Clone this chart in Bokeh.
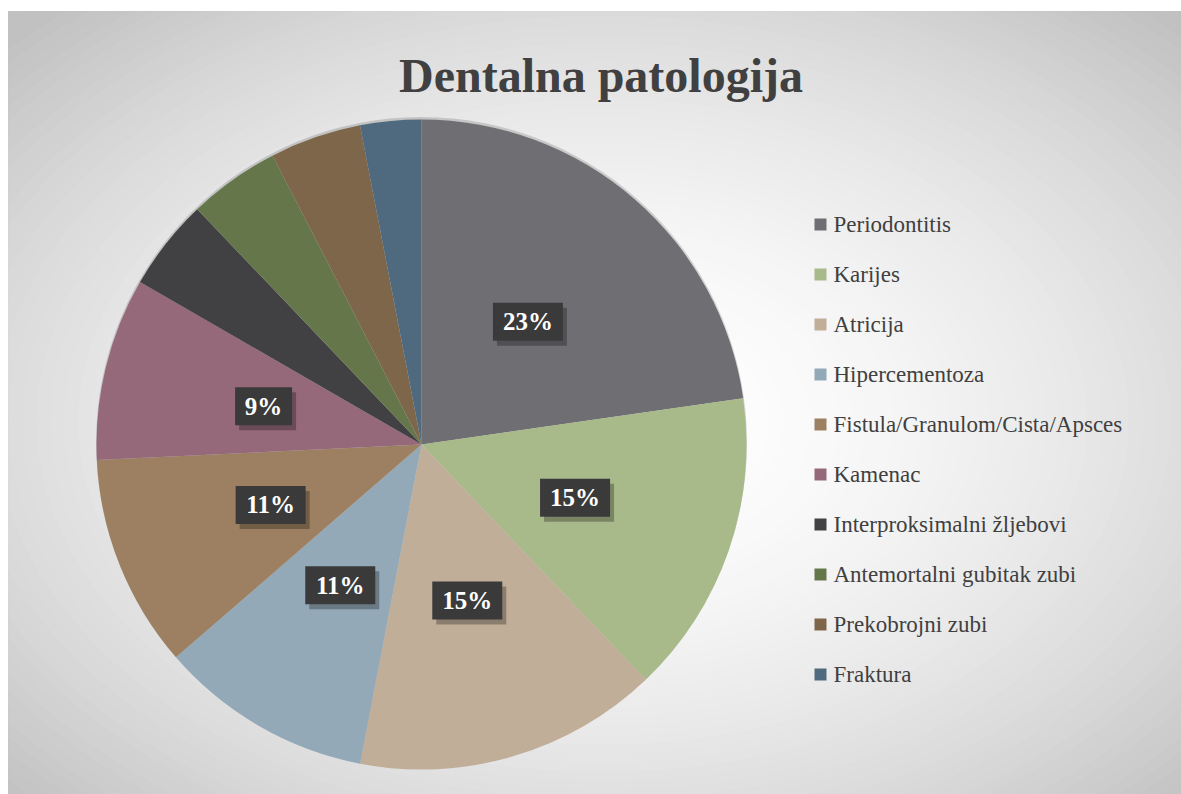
import numpy as np
from bokeh.plotting import figure
from bokeh.models import (Range1d, ColumnDataSource, BoxAnnotation, Label)
from bokeh.embed import file_html
from bokeh.resources import INLINE

# ---- data ----
categories = ["Periodontitis", "Karijes", "Atricija", "Hipercementoza",
              "Fistula/Granulom/Cista/Apsces", "Kamenac",
              "Interproksimalni žljebovi", "Antemortalni gubitak zubi",
              "Prekobrojni zubi", "Fraktura"]
counts = [15, 10, 10, 7, 7, 6, 3, 3, 3, 2]
colors = ["#6f6e73", "#a8b98a", "#c1ae98", "#93a9b8", "#9d8062",
          "#95697a", "#414144", "#65774a", "#7d6649", "#4f6a7e"]
title_text = "Dentalna patologija"

W, H = 1181, 794
FW, FH = 1173, 783
CX, CY, R = 413, 350, 325
FONT = "Times New Roman, Liberation Serif, serif"

p = figure(width=W, height=H, output_backend="svg", toolbar_location=None,
           x_range=Range1d(0, FW), y_range=Range1d(0, FH),
           min_border_top=11, min_border_left=8, min_border_right=0,
           min_border_bottom=0, border_fill_color="white")
p.axis.visible = False
p.grid.visible = False
p.outline_line_color = "#bdbdbd"
p.background_fill_color = "#c3c3c3"

# ---- radial gradient background (concentric vector ellipses) ----
gcx, gcy = 595, 783 - 410
steps = np.linspace(1.15, 0.0, 70)
ga = [2 * s * np.sqrt(2) * FW / 2 for s in steps]
gb = [2 * s * np.sqrt(2) * FH / 2 for s in steps]
gcol = []
for s in steps:
    g = int(round(255 - 62 * min(s, 1.0) ** 1.8))
    gcol.append("#%02x%02x%02x" % (g, g, g))
p.ellipse(x=gcx, y=gcy, width=ga, height=gb, fill_color=gcol, line_color=None)

# ---- pie ----
vals = np.array(counts, dtype=float)
frac = vals / vals.sum()
cum = np.concatenate([[0], np.cumsum(frac)])
start = np.pi / 2 - 2 * np.pi * cum[:-1]
end = np.pi / 2 - 2 * np.pi * cum[1:]
src = ColumnDataSource(dict(cat=categories, start=start, end=end, color=colors))

p.circle(x=[CX], y=[CY + 2], radius=R + 0.5, fill_color="black", fill_alpha=0.15,
         line_color=None)
p.wedge(x=CX, y=CY, radius=R, start_angle="start", end_angle="end",
        direction="clock", fill_color="color", line_color=None, source=src)

# ---- data labels ----
mid = 2 * np.pi * (cum[:-1] + cum[1:]) / 2
lx, ly, lt = [], [], []
for f, m in zip(frac, mid):
    if f >= 0.08:
        lx.append(CX + 0.5 * R * np.sin(m))
        ly.append(CY + 0.5 * R * np.cos(m))
        lt.append(f"{round(f * 100):.0f}%")
lx = np.array(lx); ly = np.array(ly)
bw = [31 + 13 * len(t) for t in lt]
lsrc = ColumnDataSource(dict(x=lx, y=ly, sx=lx + 4, sy=ly - 5, t=lt, w=bw))
p.rect(x="sx", y="sy", width="w", height=38, width_units="screen",
       height_units="screen", source=lsrc, fill_color="black", fill_alpha=0.28,
       line_color=None)
p.rect(x="x", y="y", width="w", height=38, width_units="screen",
       height_units="screen", source=lsrc, fill_color="#3a3a3a", line_color=None)
for x, y, t in zip(lx, ly, lt):
    p.add_layout(Label(x=x, y=y, text=t, text_font=FONT,
                       text_font_size="25px", text_font_style="bold",
                       text_color="white", text_align="center",
                       text_baseline="alphabetic"))

# ---- title ----
p.add_layout(Label(x=FW / 2 + 6, y=719, text=title_text, text_font=FONT,
                   text_font_size="48px", text_font_style="bold",
                   text_color="#404040", text_align="center",
                   text_baseline="alphabetic"))

# ---- legend (panel, swatches, labels) ----
p.add_layout(BoxAnnotation(left=760, right=1170, bottom=95, top=597,
                           fill_color="white", fill_alpha=0.5, line_color=None,
                           level="underlay"))
rows = np.arange(len(categories))
row_y = 570 - 50 * rows
p.scatter(x=[812] * len(categories), y=row_y, marker="square", size=12,
          fill_color=colors, line_color=None)
for c, y in zip(categories, row_y):
    p.add_layout(Label(x=825, y=y, text=c, text_font=FONT,
                       text_font_size="23px", text_color="#404040",
                       text_align="left", text_baseline="alphabetic"))

open("out.html", "w").write(file_html(p, INLINE))
